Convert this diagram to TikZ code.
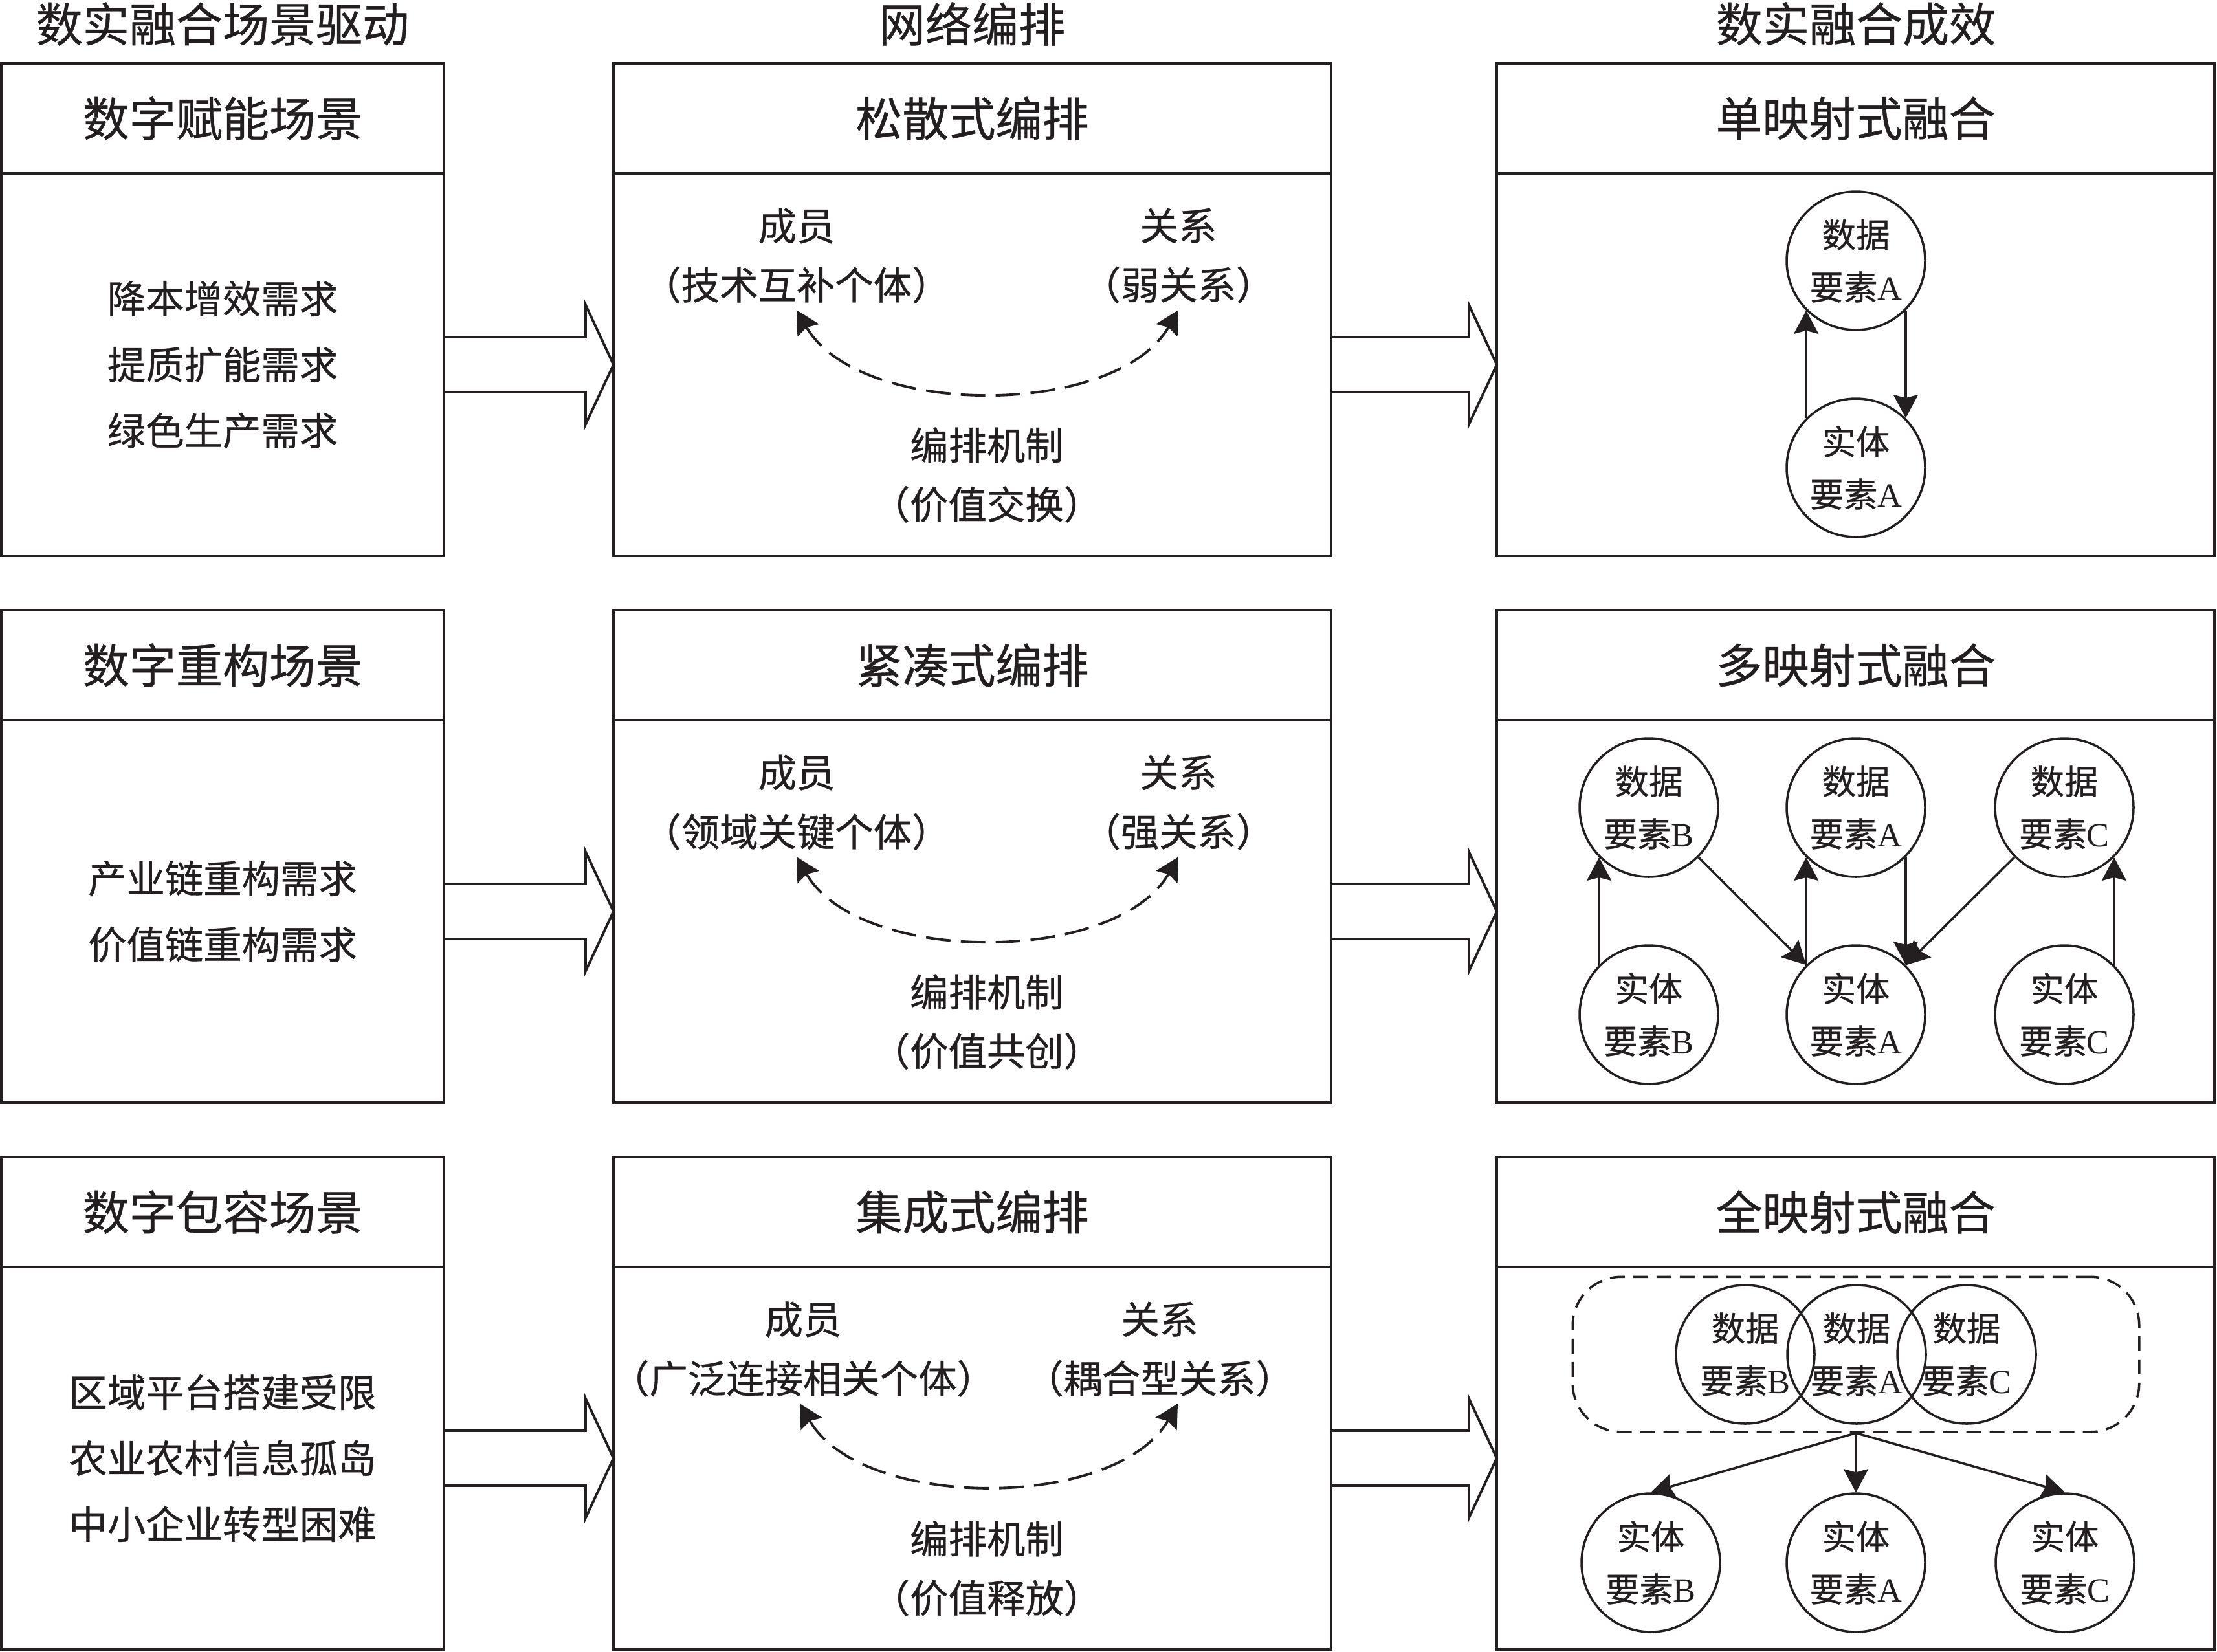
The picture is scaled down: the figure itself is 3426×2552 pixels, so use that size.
\documentclass[tikz,border=0pt]{standalone}
\usepackage{fontspec}
\setmainfont{Liberation Serif}
\newfontfamily\cjk[RawFeature={embolden=0.6}]{Noto Sans CJK SC}
\usetikzlibrary{arrows.meta,positioning,fit}
\definecolor{ink}{HTML}{231F20}
\newcommand{\bigarr}[2]{\draw[blk] ([yshift=4.25mm]#1.east) -- ([xshift=-4.3mm,yshift=4.25mm]#2.west) -- ([xshift=-4.3mm,yshift=9.2mm]#2.west) -- (#2.west) -- ([xshift=-4.3mm,yshift=-9.2mm]#2.west) -- ([xshift=-4.3mm,yshift=-4.25mm]#2.west) -- ([yshift=-4.25mm]#1.east);}

\begin{document}
\begin{tikzpicture}[x=0.1mm,y=-0.1mm,color=ink,
	>={Stealth[length=3.6mm,width=3.8mm,inset=0.5mm]},
	ttl/.style={font=\cjk\fontsize{20.5pt}{24pt}\selectfont},
	hd/.style={draw,line width=1.1pt,outer sep=0pt,minimum height=1.7cm,ttl},
	bd/.style={draw,line width=1.1pt,outer sep=0pt,minimum height=5.91cm,align=center,font=\cjk\fontsize{16.9pt}{29pt}\selectfont},
	c1/.style={minimum width=6.84cm},
	c2/.style={minimum width=11.09cm},
	txt/.style={align=center,inner sep=0pt,font=\cjk\fontsize{16.9pt}{26pt}\selectfont},
	elem/.style={circle,draw,line width=1pt,minimum size=2.14cm,inner sep=0pt,align=center,font=\cjk\fontsize{14.9pt}{23pt}\selectfont},
	link/.style={->,line width=1pt},
	mech/.style={<->,line width=1.1pt,dash pattern=on 3.8mm off 1.6mm},
	grp/.style={draw,line width=1pt,dash pattern=on 2.3mm off 1.3mm,rounded corners=7.5mm,inner xsep=15.8mm,inner ysep=1.1mm},
	blk/.style={line width=1.1pt}]
	\useasboundingbox (0,0) rectangle (3426,2552);

	\node[ttl] (t1) at (344,37) {数实融合场景驱动};
	\node[ttl] (t2) at (1502,37) {网络编排};
	\node[ttl] (t3) at (2868,37) {数实融合成效};

	\node[hd,c1] (hs1) at (344,183) {数字赋能场景};
	\node[bd,c1,below=0pt of hs1] (s1) {降本增效需求\\提质扩能需求\\绿色生产需求};
	\node[hd,c1] (hs2) at (344,1028) {数字重构场景};
	\node[bd,c1,below=0pt of hs2] (s2) {产业链重构需求\\价值链重构需求};
	\node[hd,c1] (hs3) at (344,1873) {数字包容场景};
	\node[bd,c1,below=0pt of hs3] (s3) {区域平台搭建受限\\农业农村信息孤岛\\中小企业转型困难};

	\node[hd,c2] (ho1) at (1502.5,183) {松散式编排};
	\node[bd,c2,below=0pt of ho1] (o1) {};
	\node[hd,c2] (ho2) at (1502.5,1028) {紧凑式编排};
	\node[bd,c2,below=0pt of ho2] (o2) {};
	\node[hd,c2] (ho3) at (1502.5,1873) {集成式编排};
	\node[bd,c2,below=0pt of ho3] (o3) {};

	\node[hd,c2] (hf1) at (2867.5,183) {单映射式融合};
	\node[bd,c2,below=0pt of hf1] (f1) {};
	\node[hd,c2] (hf2) at (2867.5,1028) {多映射式融合};
	\node[bd,c2,below=0pt of hf2] (f2) {};
	\node[hd,c2] (hf3) at (2867.5,1873) {全映射式融合};
	\node[bd,c2,below=0pt of hf3] (f3) {};

	\bigarr{s1}{o1}
	\bigarr{s2}{o2}
	\bigarr{s3}{o3}
	\bigarr{o1}{f1}
	\bigarr{o2}{f2}
	\bigarr{o3}{f3}

	\node[txt] (m1) at (1231,395) {成员\\（技术互补个体）};
	\node[txt] (r1) at (1821,395) {关系\\（弱关系）};
	\node[txt] (k1) at (1525,734) {编排机制\\（价值交换）};
	\draw[mech] ([yshift=-1mm]m1.south) to[out=-60,in=-120,looseness=0.84] ([yshift=-1mm]r1.south);

	\node[txt] (m2) at (1231,1240) {成员\\（领域关键个体）};
	\node[txt] (r2) at (1821,1240) {关系\\（强关系）};
	\node[txt] (k2) at (1525,1579) {编排机制\\（价值共创）};
	\draw[mech] ([yshift=-1mm]m2.south) to[out=-60,in=-120,looseness=0.84] ([yshift=-1mm]r2.south);

	\node[txt] (m3) at (1241,2085) {成员\\（广泛连接相关个体）};
	\node[txt] (r3) at (1792,2085) {关系\\（耦合型关系）};
	\node[txt] (k3) at (1525,2424) {编排机制\\（价值释放）};
	\draw[mech] ([xshift=-0.5mm,yshift=-1mm]m3.south) to[out=-60,in=-120,looseness=0.84] ([xshift=2.8mm,yshift=-1mm]r3.south);

	\node[elem] (da1) at (2868,403) {数据\\要素{\rmfamily A}};
	\node[elem] (ea1) at (2868,723) {实体\\要素{\rmfamily A}};
	\draw[link] (ea1.135) -- (da1.225);
	\draw[link] (da1.-45) -- (ea1.45);

	\node[elem] (db2) at (2548,1248) {数据\\要素{\rmfamily B}};
	\node[elem] (da2) at (2868,1248) {数据\\要素{\rmfamily A}};
	\node[elem] (dc2) at (3190,1248) {数据\\要素{\rmfamily C}};
	\node[elem] (eb2) at (2548,1568) {实体\\要素{\rmfamily B}};
	\node[elem] (ea2) at (2868,1568) {实体\\要素{\rmfamily A}};
	\node[elem] (ec2) at (3190,1568) {实体\\要素{\rmfamily C}};
	\draw[link] (eb2.135) -- (db2.225);
	\draw[link] (db2) -- (ea2);
	\draw[link] (ea2.135) -- (da2.225);
	\draw[link] (da2.-45) -- (ea2.45);
	\draw[link] (dc2) -- (ea2);
	\draw[link] (ec2.45) -- (dc2.-45);

	\node[elem] (db3) at (2697,2093) {数据\\要素{\rmfamily B}};
	\node[elem] (da3) at (2869,2093) {数据\\要素{\rmfamily A}};
	\node[elem] (dc3) at (3039,2093) {数据\\要素{\rmfamily C}};
	\node[grp,fit=(db3)(dc3)] (g3) {};
	\node[elem] (eb3) at (2551,2415) {实体\\要素{\rmfamily B}};
	\node[elem] (ea3) at (2868,2415) {实体\\要素{\rmfamily A}};
	\node[elem] (ec3) at (3191,2415) {实体\\要素{\rmfamily C}};
	\draw[link] (g3.south) -- (eb3.north);
	\draw[link] (g3.south) -- (ea3.north);
	\draw[link] (g3.south) -- (ec3.north);
\end{tikzpicture}
\end{document}
